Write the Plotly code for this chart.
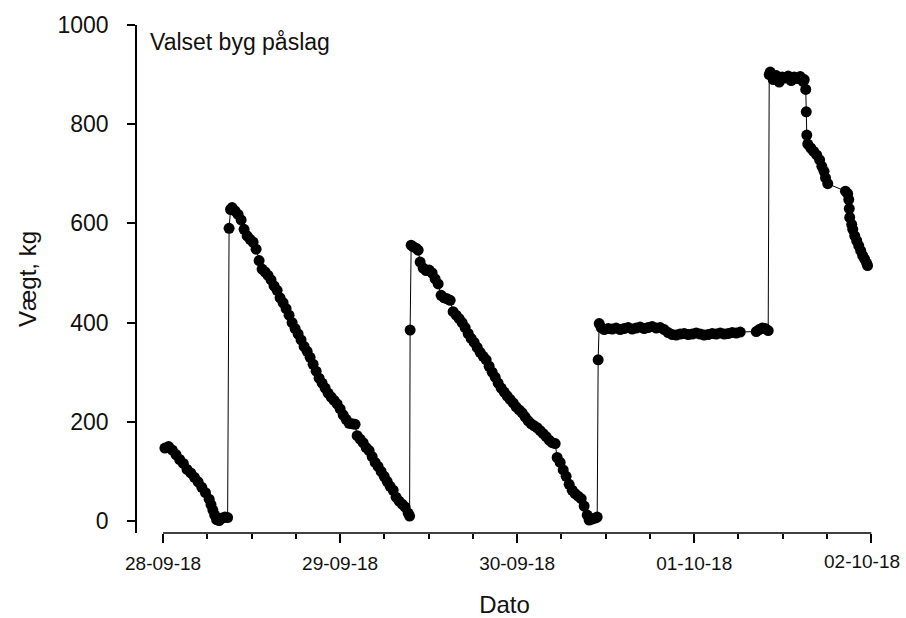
import pandas as pd
import plotly.graph_objects as go

# Logged silo weight for "Valset byg påslag", hours counted from 28-09-18 00:00
start = pd.Timestamp("2018-09-28 00:00")

# 28-09 morning: emptying, then refill
p1_hours = [0.25, 0.75, 1.25, 1.75, 2.25, 2.75, 3.25, 3.75, 4.25, 4.75, 5.25, 5.75,
            6.25, 6.5, 6.75, 7.0, 7.25, 7.6, 8.0, 8.4, 8.75]
p1_kg = [147, 150, 143, 134, 124, 116, 104, 97, 88, 79, 68, 57,
         44, 33, 22, 12, 3, 1, 6, 8, 7]

# 28-09 refill and consumption until 29-09
p2_hours = [8.95, 9.15, 9.36, 9.76, 10.17, 10.58, 10.98, 11.39, 11.80, 12.20, 12.61, 13.02,
            13.42, 13.83, 14.24, 14.64, 15.05, 15.46, 15.86, 16.27, 16.68, 17.08, 17.49,
            17.90, 18.31, 18.71, 19.12, 19.53, 19.93, 20.34, 20.75, 21.15, 21.56, 21.97,
            22.37, 22.78, 23.19, 23.59, 24.00, 24.41, 24.81, 25.22, 25.63, 26.03, 26.31,
            26.71, 27.12, 27.53, 27.93, 28.34, 28.75, 29.15, 29.56, 29.97, 30.37, 30.78,
            31.19, 31.59, 32.00, 32.41, 32.81, 33.22, 33.42]
p2_kg = [590, 628, 632, 625, 618, 607, 588, 575, 568, 562, 548, 525,
         508, 502, 495, 486, 474, 465, 450, 440, 428, 415, 400,
         388, 377, 365, 352, 342, 330, 316, 302, 288, 278, 268,
         258, 250, 243, 236, 226, 214, 205, 197, 196, 195, 172,
         165, 158, 148, 142, 130, 118, 110, 100, 90, 80, 70,
         62, 48, 40, 34, 28, 16, 10]

# 29-09 refill and consumption until 30-09
p3_hours = [33.49, 33.63, 33.90, 34.30, 34.58, 34.85, 35.25, 35.66, 36.07, 36.47, 36.88,
            37.29, 37.69, 38.10, 38.51, 38.92, 39.32, 39.73, 40.14, 40.54, 40.95, 41.36,
            41.76, 42.17, 42.58, 42.98, 43.39, 43.80, 44.20, 44.61, 45.02, 45.42, 45.83,
            46.24, 46.64, 47.05, 47.46, 47.86, 48.27, 48.68, 49.08, 49.49, 49.90, 50.31,
            50.71, 51.12, 51.53, 51.93, 52.34, 52.75, 53.15, 53.42, 53.83, 54.24, 54.64,
            55.05, 55.46, 55.86, 56.27, 56.68, 57.08, 57.49, 57.76, 58.17, 58.58, 58.85]
p3_kg = [385, 556, 553, 550, 546, 522, 510, 505, 506, 500, 488,
         478, 455, 450, 448, 445, 422, 415, 408, 400, 390, 378,
         368, 360, 350, 340, 332, 325, 312, 300, 290, 278, 268,
         260, 252, 245, 238, 230, 224, 218, 210, 202, 196, 192,
         188, 182, 176, 170, 163, 158, 156, 128, 118, 103, 90,
         74, 62, 55, 50, 45, 30, 12, 2, 4, 6, 8]

# 30-09 refill, then near-constant weight through 01-10
p4_hours = [58.98, 59.12, 59.39, 59.80, 60.34, 60.88, 61.42, 61.97, 62.51, 63.05, 63.59,
            64.14, 64.68, 65.22, 65.76, 66.30, 66.85, 67.39, 67.93, 68.47, 69.02, 69.56,
            70.10, 70.64, 71.18, 71.73, 72.27, 72.81, 73.35, 73.90, 74.44, 74.98, 75.52,
            76.07, 76.61, 77.15, 77.69, 78.24, 80.41, 80.81, 81.22, 81.63, 82.03]
p4_kg = [325, 398, 390, 386, 388, 387, 389, 386, 388, 390, 387,
         389, 391, 388, 390, 392, 389, 390, 386, 380, 376, 375,
         377, 378, 376, 377, 379, 377, 375, 376, 378, 377, 379,
         377, 378, 380, 379, 381, 382, 386, 389, 388, 384]

# 01-10 refill and consumption towards 02-10
p5_hours = [82.17, 82.30, 82.71, 83.12, 83.52, 83.93, 84.34, 84.75, 85.15, 85.56, 85.97,
            86.37, 86.78, 86.91, 87.12, 87.19, 87.26, 87.39, 87.80, 88.20, 88.60, 89.00,
            89.30, 89.60, 89.80, 90.10, 92.50, 92.80, 92.95, 93.02, 93.08, 93.35, 93.49,
            93.76, 94.03, 94.30, 94.57, 94.84, 95.10, 95.37, 95.50]
p5_kg = [900, 905, 890, 898, 885, 895, 893, 897, 888, 895, 892,
         896, 886, 890, 870, 825, 778, 760, 752, 745, 738, 728,
         715, 705, 692, 680, 665, 660, 648, 630, 612, 598, 588,
         575, 565, 555, 545, 535, 528, 520, 515]

hours = p1_hours + p2_hours + p3_hours + p4_hours + p5_hours
weight_kg = p1_kg + p2_kg + p3_kg + p4_kg + p5_kg
times = [start + pd.Timedelta(hours=h) for h in hours]

y_ticks = [0, 200, 400, 600, 800, 1000]
x_first_day = "2018-09-28"
x_last_day = "2018-10-02"
x_last_label = "02-10-18"

font_family = "Arial, Liberation Sans, sans-serif"
tick_font = dict(size=19, color="#111")

fig = go.Figure()
fig.add_trace(go.Scatter(
    x=times, y=weight_kg,
    mode="lines+markers",
    line=dict(color="black", width=1),
    marker=dict(color="black", size=11, line=dict(width=0)),
    showlegend=False,
    cliponaxis=False,
))

fig.update_layout(
    width=906, height=618,
    margin=dict(l=137, r=34, t=25, b=85),
    paper_bgcolor="white", plot_bgcolor="white",
    font=dict(family=font_family, color="black"),
    xaxis=dict(
        type="date",
        range=["2018-09-27 20:28", "2018-10-02 00:06"],
        automargin=False,
        showline=False, showgrid=False, zeroline=False,
        tickmode="linear", tick0=x_first_day, dtick=86400000,
        tickformat="%d-%m-%y",
        ticks="outside", ticklen=9, tickwidth=1.5, tickcolor="black",
        ticklabelstandoff=4,
        tickfont=tick_font,
        minor=dict(ticks="outside", dtick=6 * 3600 * 1000, ticklen=5,
                   tickwidth=1.5, tickcolor="black", showgrid=False),
        title=dict(text="Dato", font=dict(size=24, color="#111"), standoff=23),
    ),
    yaxis=dict(
        range=[-24.2, 1000],
        automargin=False,
        showline=True, linecolor="black", linewidth=1.5,
        showgrid=False, zeroline=False,
        tickvals=y_ticks,
        ticks="outside", ticklen=8, tickwidth=1.5, tickcolor="black",
        ticklabelstandoff=14,
        tickfont=dict(size=23, color="#111"),
        title=dict(text="Vægt, kg", font=dict(size=24, color="#111"), standoff=14),
    ),
    shapes=[dict(
        type="line", xref="x", yref="paper",
        x0=x_first_day, x1=x_last_day, y0=0, y1=0,
        line=dict(color="black", width=1.5),
    )],
    annotations=[
        dict(
            text="Valset byg påslag",
            xref="paper", yref="paper", x=0.015, y=0.9665,
            xanchor="left", yanchor="middle", showarrow=False,
            font=dict(size=23, color="#111"),
        ),
        # last day label kept inside the page edge
        dict(
            text=x_last_label,
            xref="x", yref="paper", x=x_last_day, y=-0.057,
            xanchor="right", yanchor="middle", xshift=31, showarrow=False,
            font=tick_font,
        ),
    ],
)

fig.write_html("out.html")
